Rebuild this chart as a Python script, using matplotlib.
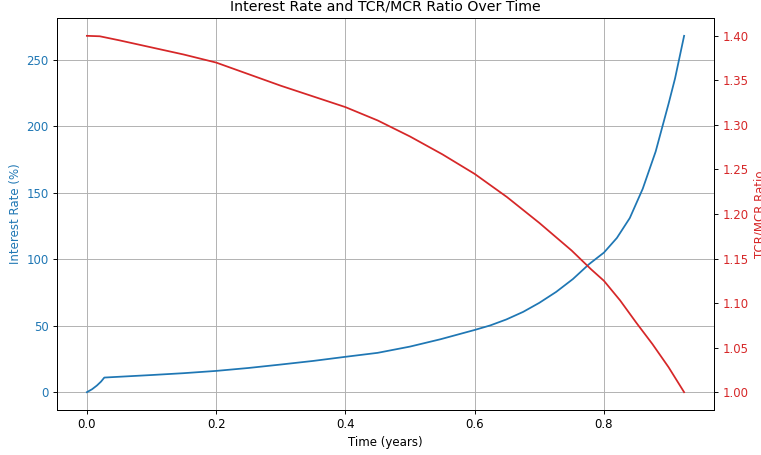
import matplotlib
matplotlib.use("Agg")
import matplotlib.pyplot as plt

# time points (years)
time_rate = [0.0, 0.008, 0.0155, 0.022, 0.027, 0.1, 0.15, 0.2, 0.25, 0.3, 0.35, 0.4,
             0.45, 0.5, 0.547, 0.6, 0.624, 0.649, 0.675, 0.7, 0.726, 0.752, 0.777,
             0.8, 0.82, 0.84, 0.86, 0.88, 0.9, 0.91, 0.924]
# interest rate in %
interest_rate = [0.0, 2.2, 5.0, 8.0, 11.0, 12.9, 14.3, 16.0, 18.2, 20.8, 23.5, 26.6,
                 29.6, 34.3, 39.8, 46.8, 50.2, 54.7, 60.4, 67.2, 75.4, 85.1, 96.3,
                 105.0, 116.0, 131.0, 153.0, 181.0, 217.0, 236.0, 268.0]

time_ratio = [0.0, 0.02, 0.05, 0.1, 0.15, 0.2, 0.25, 0.3, 0.35, 0.4, 0.45, 0.5, 0.55,
              0.6, 0.65, 0.7, 0.75, 0.78, 0.8, 0.825, 0.85, 0.875, 0.9, 0.924]
# TCR/MCR ratio
tcr_mcr = [1.400, 1.3995, 1.395, 1.387, 1.379, 1.370, 1.357, 1.344, 1.332, 1.320, 1.305,
           1.287, 1.267, 1.245, 1.219, 1.190, 1.159, 1.138, 1.125, 1.103, 1.078, 1.054,
           1.028, 1.000]

fig, ax1 = plt.subplots(figsize=(761 / 84.5, 455 / 84.5), dpi=84.5)
fig.subplots_adjust(left=0.0749, right=0.9382, bottom=0.0989, top=0.9604)

color = 'tab:blue'
ax1.set_xlabel('Time (years)')
ax1.set_ylabel('Interest Rate (%)', color=color)
ax1.plot(time_rate, interest_rate, color=color)
ax1.tick_params(axis='y', labelcolor=color)
ax1.grid(True)

ax2 = ax1.twinx()
color = 'tab:red'
ax2.set_ylabel('TCR/MCR Ratio', color=color)
ax2.plot(time_ratio, tcr_mcr, color=color)
ax2.tick_params(axis='y', labelcolor=color)

plt.title('Interest Rate and TCR/MCR Ratio Over Time')
plt.savefig('out.png', dpi=84.5)
